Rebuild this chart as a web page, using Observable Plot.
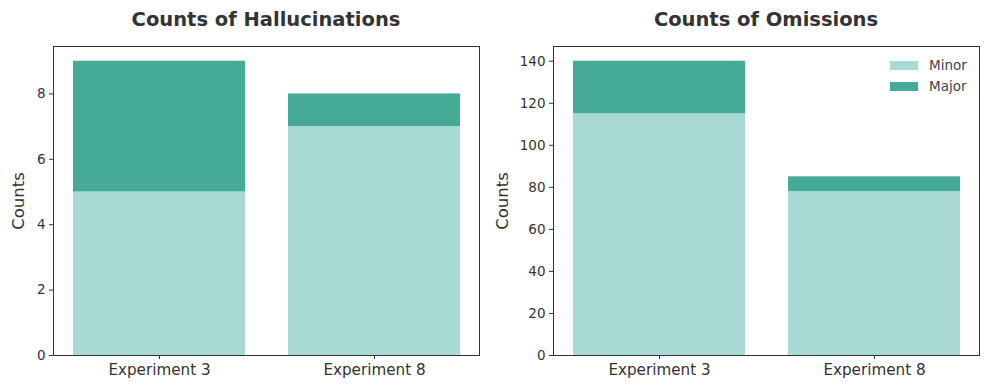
<!DOCTYPE html>
<html>
<head>
<meta charset="utf-8">
<script src="https://cdn.jsdelivr.net/npm/d3@7"></script>
<script src="https://cdn.jsdelivr.net/npm/@observablehq/plot@0.6"></script>
<style>
  body { margin: 0; background: #fff; font-family: "DejaVu Sans", sans-serif; }
  #wrap { position: relative; width: 989px; height: 390px; overflow: hidden; }
  .title { position: absolute; top: 0; height: 36px; line-height: 39px; font-weight: bold; font-size: 19.5px; color: #333; text-align: center; white-space: nowrap; }
  .panel { position: absolute; top: 36px; }
  .panel svg { display: block; }
  .legend { position: absolute; font-size: 13.5px; color: #444; }
  .legend .row { position: absolute; display: flex; align-items: center; white-space: nowrap; }
  .legend .sw { width: 28px; height: 9px; margin-right: 11px; }
</style>
</head>
<body>
<div id="wrap"></div>
<script>
const experiments = ["Experiment 3", "Experiment 8"];
const types = ["Minor", "Major"];
const halluMinor = [5, 7];
const halluMajor = [4, 1];
const omitMinor = [115, 78];
const omitMajor = [25, 7];
const halluTicks = [0, 2, 4, 6, 8];
const omitTicks = [0, 20, 40, 60, 80, 100, 120, 140];
const yLabel = "Counts";
const colors = ["#a8d9d5", "#45ab96"];

function rows(minor, major) {
  const out = [];
  experiments.forEach((e, i) => {
    out.push({exp: e, type: "Minor", count: minor[i]});
    out.push({exp: e, type: "Major", count: major[i]});
  });
  return out;
}

function panel({data, ymax, ticks, width, ml, mr, labelDx}) {
  return Plot.plot({
    width, height: 354,
    marginTop: 10, marginBottom: 35, marginLeft: ml, marginRight: mr,
    style: {fontFamily: "DejaVu Sans, sans-serif", color: "#333", background: "#fff"},
    x: {domain: experiments, paddingInner: 0.2, paddingOuter: 0.09},
    y: {domain: [0, ymax]},
    color: {domain: types, range: colors},
    marks: [
      Plot.barY(data, {x: "exp", y: "count", fill: "type"}),
      Plot.frame({stroke: "#333", strokeWidth: 1}),
      Plot.axisY({ticks, tickSize: 4, tickPadding: 4, fontSize: 13.5, label: null, stroke: "#333", fill: "#333"}),
      Plot.axisX({tickSize: 4, tickPadding: 5, fontSize: 15.2, label: null, stroke: "#333", fill: "#333"}),
      Plot.text([yLabel], {frameAnchor: "left", rotate: -90, dx: labelDx, fontSize: 16.5, fill: "#333", textAnchor: "middle"})
    ]
  });
}

const wrap = document.getElementById("wrap");

function addTitle(text, cx) {
  const d = document.createElement("div");
  d.className = "title";
  d.textContent = text;
  d.style.left = (cx - 200) + "px";
  d.style.width = "400px";
  wrap.appendChild(d);
}
addTitle("Counts of Hallucinations", 266);
addTitle("Counts of Omissions", 766);

const p1 = document.createElement("div");
p1.className = "panel"; p1.style.left = "0px";
p1.appendChild(panel({data: rows(halluMinor, halluMajor), ymax: 9.45, ticks: halluTicks, width: 484, ml: 53, mr: 5, labelDx: -35}));
wrap.appendChild(p1);

const p2 = document.createElement("div");
p2.className = "panel"; p2.style.left = "484px";
p2.appendChild(panel({data: rows(omitMinor, omitMajor), ymax: 147, ticks: omitTicks, width: 505, ml: 69, mr: 10, labelDx: -51}));
wrap.appendChild(p2);

// legend
const leg = document.createElement("div");
leg.className = "legend";
leg.style.left = "890px"; leg.style.top = "57px";
types.forEach((t, i) => {
  const r = document.createElement("div");
  r.className = "row";
  r.style.top = (i * 21) + "px";
  r.style.left = "0px";
  const sw = document.createElement("div");
  sw.className = "sw"; sw.style.background = colors[i];
  const lab = document.createElement("span");
  lab.textContent = t;
  r.appendChild(sw); r.appendChild(lab);
  leg.appendChild(r);
});
wrap.appendChild(leg);
</script>
</body>
</html>
